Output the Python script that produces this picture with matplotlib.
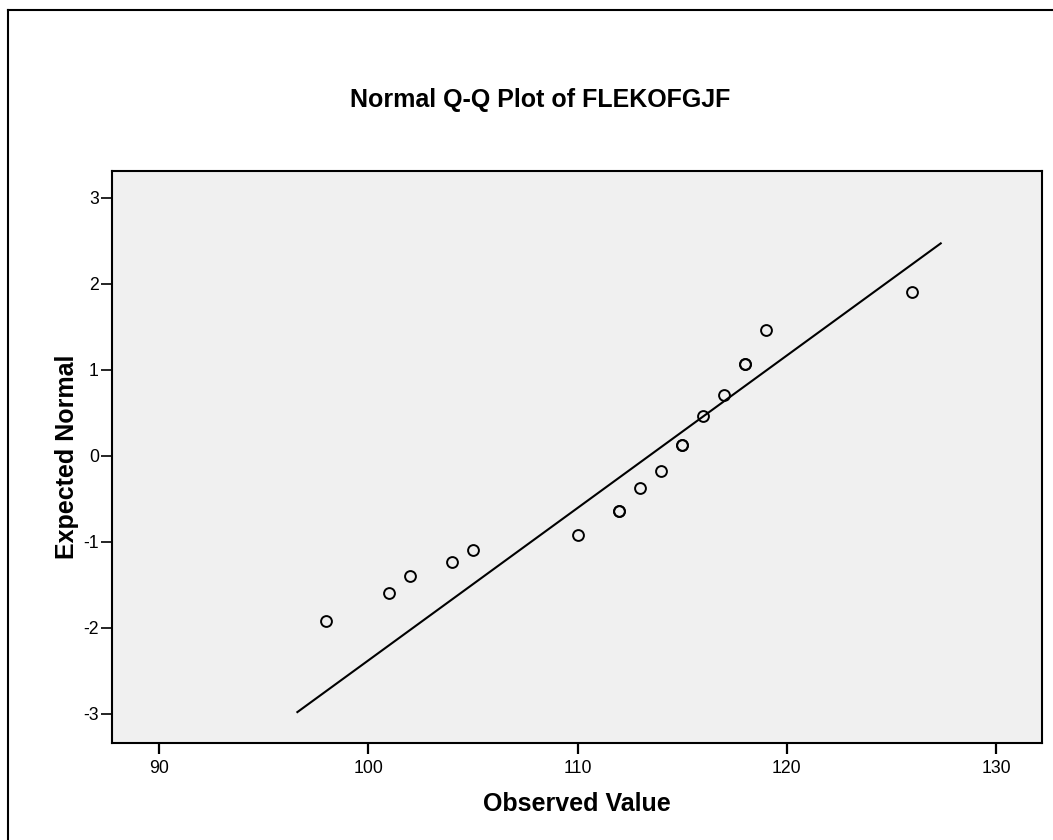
import numpy as np
import matplotlib
matplotlib.use('Agg')
import matplotlib.pyplot as plt
from matplotlib.lines import Line2D

plt.rcParams['font.family'] = ['Liberation Sans', 'DejaVu Sans']
plt.rcParams['axes.unicode_minus'] = False

# Observed values and their expected normal scores (ties drawn once per case)
observed = [98, 101, 102, 104, 105, 110, 112, 113, 114, 115, 116, 117, 118, 119, 126]
expected = [-1.92, -1.60, -1.40, -1.23, -1.10, -0.92, -0.64, -0.37, -0.18, 0.13,
            0.46, 0.70, 1.07, 1.46, 1.90]
cases = [1, 1, 1, 1, 1, 1, 2, 1, 1, 2, 1, 1, 2, 1, 1]

# Reference normal line
mean = 113.43
sd = 5.643
line_x = [96.61, 127.36]

x_ticks = [90, 100, 110, 120, 130]
y_ticks = [-3, -2, -1, 0, 1, 2, 3]

fig = plt.figure(figsize=(10.53, 8.4), dpi=100)
W, H = 1053, 840

# frame around the whole chart
fig.add_artist(Line2D([7.5 / W, 7.5 / W], [0, 1 - 9.5 / H], color='black', lw=1.5))
fig.add_artist(Line2D([7.5 / W, 1], [1 - 9.5 / H, 1 - 9.5 / H], color='black', lw=1.5))

ax = fig.add_axes([112 / W, 1 - 743 / H, (1042 - 112) / W, (743 - 171) / H])
ax.set_facecolor('#f0f0f0')

lx = np.array(line_x)
ax.plot(lx, (lx - mean) / sd, color='black', lw=1.5, zorder=2)

ax.plot(np.repeat(observed, cases), np.repeat(expected, cases), 'o', ms=7.8,
        mfc='none', mec='black', mew=1.4, zorder=3)

ax.set_xlim(87.75, 132.2)
ax.set_ylim(-3.34, 3.31)
ax.set_xticks(x_ticks)
ax.set_yticks(y_ticks)
ax.tick_params(axis='x', direction='out', length=8, width=1.6, pad=4, labelsize=12.7)
ax.tick_params(axis='y', direction='out', length=8, width=1.2, pad=1.5, labelsize=12.7)
for s in ax.spines.values():
    s.set_linewidth(1.5)

ax.set_xlabel('Observed Value', fontsize=18, fontweight='bold', va='center')
ax.xaxis.set_label_coords(0.5, -(804 - 743) / 572)
ax.set_ylabel('Expected Normal', fontsize=18, fontweight='bold', va='center')
ax.yaxis.set_label_coords(-(112 - 67) / 930, 0.5)

fig.text(540 / W, 1 - 100 / H, 'Normal Q-Q Plot of FLEKOFGJF', ha='center', va='center',
         fontsize=18, fontweight='bold')

fig.savefig('out.png', dpi=100)
